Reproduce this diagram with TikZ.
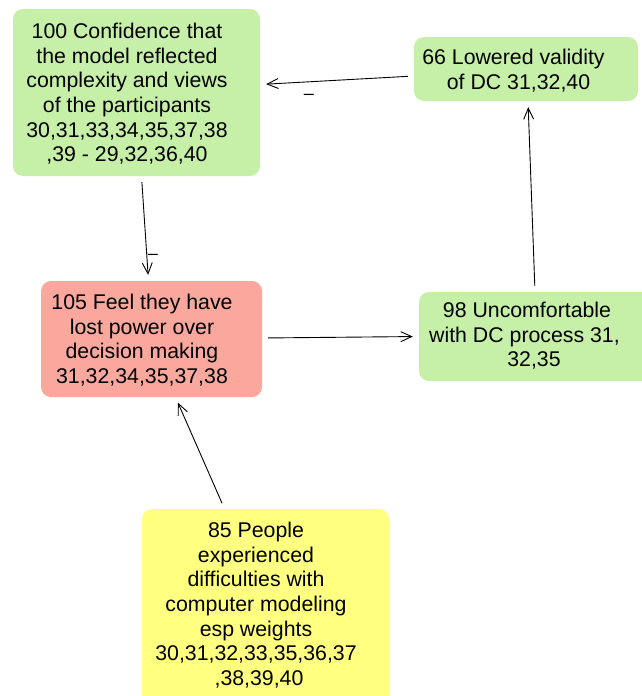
\documentclass[tikz,border=0pt]{standalone}
\usepackage{fontspec}
\setmainfont{Liberation Sans}
\usetikzlibrary{arrows.meta,calc}
\definecolor{boxgreen}{RGB}{198,240,168}
\definecolor{boxred}{RGB}{250,168,158}
\definecolor{boxyellow}{RGB}{255,255,128}
\begin{document}
\begin{tikzpicture}[x=1pt,y=-1pt,
  box/.style={rectangle, rounded corners=10pt, inner sep=0pt, draw=none},
  txt/.style={anchor=north, align=center, inner sep=0pt,
    font=\fontsize{21.3}{24.7}\selectfont},
  link/.style={-{Straight Barb[length=11pt,width=10pt]}, line width=0.9pt,
    shorten <=6pt, shorten >=6pt},
  sign/.style={inner sep=0pt, anchor=base, font=\fontsize{18}{20}\selectfont}]
\useasboundingbox (0,0) rectangle (642,696);

% factor boxes
\node[box, fill=boxgreen, minimum width=247pt, minimum height=167pt] (b100) at (136.5,92.5) {};
\node[box, fill=boxgreen, minimum width=224pt, minimum height=64pt] (b66) at (526,69) {};
\node[box, fill=boxred, minimum width=221pt, minimum height=116pt] (b105) at (151.5,339) {};
\node[box, fill=boxgreen, minimum width=246pt, minimum height=89pt] (b98) at (542,336.5) {};
\node[box, fill=boxyellow, minimum width=247pt, minimum height=236pt] (b85) at (265.5,627) {};

% factor texts (trailing kerns keep the lines' own centring)
\node[txt] (t100) at (127,22.7) {100 Confidence that\\the model reflected\\complexity and views\\of the participants\\30,31,33,34,35,37,38\\,39 - 29,32,36,40};
\node[txt] (t66) at (516,48.7) {66 Lowered validity\kern5pt\\of DC 31,32,40\kern-5pt};
\node[txt] (t105) at (142,293.7) {105 Feel they have\\lost power over\\decision making\\31,32,34,35,37,38};
\node[txt] (t98) at (534,301.7) {98 Uncomfortable\kern14pt\\with DC process 31,\kern19pt\\32,35};
\node[txt] (t85) at (256,521.7) {85 People\\experienced\\difficulties with\\computer modeling\\esp weights\\30,31,32,33,35,36,37\\,38,39,40\kern-6pt};

% causal links
\draw[link] ($(b66.west)+(0,7)$) -- ($(b100.east)+(0,-8)$);
\draw[link] ($(b100.south)+(5,0)$) -- ($(b105.north)+(-3,0)$);
\draw[link] ($(b105.east)+(0,-1)$) -- (b98.west);
\draw[link] ($(b98.north)+(-7,0)$) -- ($(b66.south)+(2,0)$);
\draw[link] ($(b85.north)+(-41,0)$) -- ($(b105.south)+(24,0)$);

% negative signs on links
\node[sign] (s1) at (309,99) {–};
\node[sign] (s2) at (153,259) {–};
\end{tikzpicture}
\end{document}
